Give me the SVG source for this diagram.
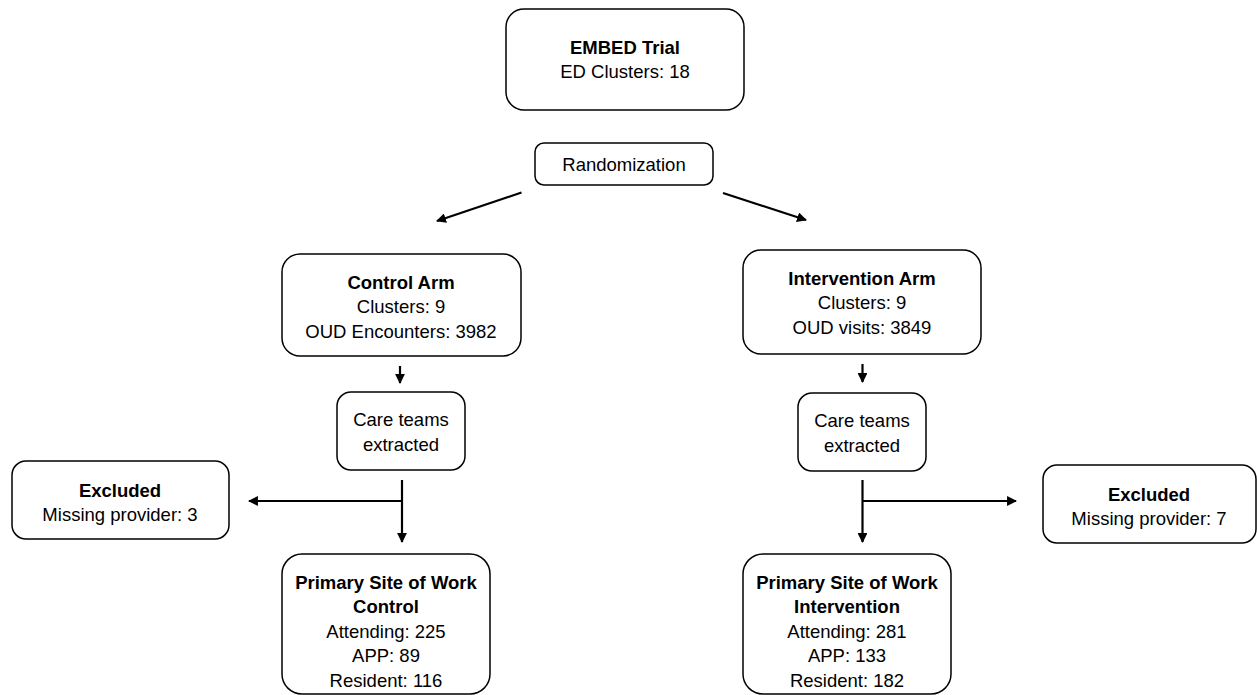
<svg xmlns="http://www.w3.org/2000/svg" width="1257" height="695" viewBox="0 0 1257 695">
<style>
.box{fill:#fff;stroke:#000;stroke-width:1.5}
text{font-family:"Liberation Sans",Arial,sans-serif;font-size:18.5px;fill:#000;text-anchor:middle}
.b{font-weight:bold}
.c{stroke:#000;stroke-width:2.2;fill:none}
</style>
<defs>
<marker id="ah" viewBox="0 0 10 10" refX="9" refY="5" markerWidth="4.5" markerHeight="4.5" orient="auto" markerUnits="strokeWidth">
<path d="M0,0 L10,5 L0,10 z" fill="#000"/>
</marker>
</defs>
<rect width="1257" height="695" fill="#fff"/>
<g id="connectors">
<line class="c" x1="521.5" y1="192.5" x2="437" y2="221" marker-end="url(#ah)"/>
<line class="c" x1="723" y1="193" x2="806" y2="220" marker-end="url(#ah)"/>
<line class="c" x1="400" y1="366" x2="400" y2="383" marker-end="url(#ah)"/>
<line class="c" x1="862.5" y1="364" x2="862.5" y2="382" marker-end="url(#ah)"/>
<line class="c" x1="402" y1="480" x2="402" y2="542" marker-end="url(#ah)"/>
<line class="c" x1="402" y1="501" x2="249" y2="501" marker-end="url(#ah)"/>
<line class="c" x1="862.5" y1="480" x2="862.5" y2="542" marker-end="url(#ah)"/>
<line class="c" x1="862.5" y1="501" x2="1016" y2="501" marker-end="url(#ah)"/>
</g>
<g id="embed">
<rect class="box" x="506" y="9" width="238" height="101" rx="18"/>
<text x="625" y="54" class="b">EMBED Trial</text>
<text x="625" y="78">ED Clusters: 18</text>
</g>
<g id="randomization">
<rect class="box" x="535" y="143" width="178" height="42" rx="9"/>
<text x="624" y="171">Randomization</text>
</g>
<g id="control-arm">
<rect class="box" x="282" y="254" width="239" height="102" rx="18"/>
<text x="401" y="289" class="b">Control Arm</text>
<text x="401" y="313">Clusters: 9</text>
<text x="401" y="338">OUD Encounters: 3982</text>
</g>
<g id="intervention-arm">
<rect class="box" x="743" y="250" width="238" height="104" rx="18"/>
<text x="862" y="285" class="b">Intervention Arm</text>
<text x="862" y="309">Clusters: 9</text>
<text x="862" y="334">OUD visits: 3849</text>
</g>
<g id="care-control">
<rect class="box" x="337" y="392" width="128" height="78" rx="14"/>
<text x="401" y="426">Care teams</text>
<text x="401" y="451">extracted</text>
</g>
<g id="care-intervention">
<rect class="box" x="798" y="393" width="128" height="78" rx="14"/>
<text x="862" y="427">Care teams</text>
<text x="862" y="452">extracted</text>
</g>
<g id="excluded-control">
<rect class="box" x="12" y="461" width="217" height="78" rx="14"/>
<text x="120" y="497" class="b">Excluded</text>
<text x="120" y="521">Missing provider: 3</text>
</g>
<g id="excluded-intervention">
<rect class="box" x="1043" y="465" width="213" height="78" rx="14"/>
<text x="1149" y="501" class="b">Excluded</text>
<text x="1149" y="525">Missing provider: 7</text>
</g>
<g id="site-control">
<rect class="box" x="282" y="554" width="208" height="140" rx="20"/>
<text x="386" y="589" class="b">Primary Site of Work</text>
<text x="386" y="613" class="b">Control</text>
<text x="386" y="638">Attending: 225</text>
<text x="386" y="662">APP: 89</text>
<text x="386" y="687">Resident: 116</text>
</g>
<g id="site-intervention">
<rect class="box" x="743" y="554" width="208" height="140" rx="20"/>
<text x="847" y="589" class="b">Primary Site of Work</text>
<text x="847" y="613" class="b">Intervention</text>
<text x="847" y="638">Attending: 281</text>
<text x="847" y="662">APP: 133</text>
<text x="847" y="687">Resident: 182</text>
</g>
</svg>
